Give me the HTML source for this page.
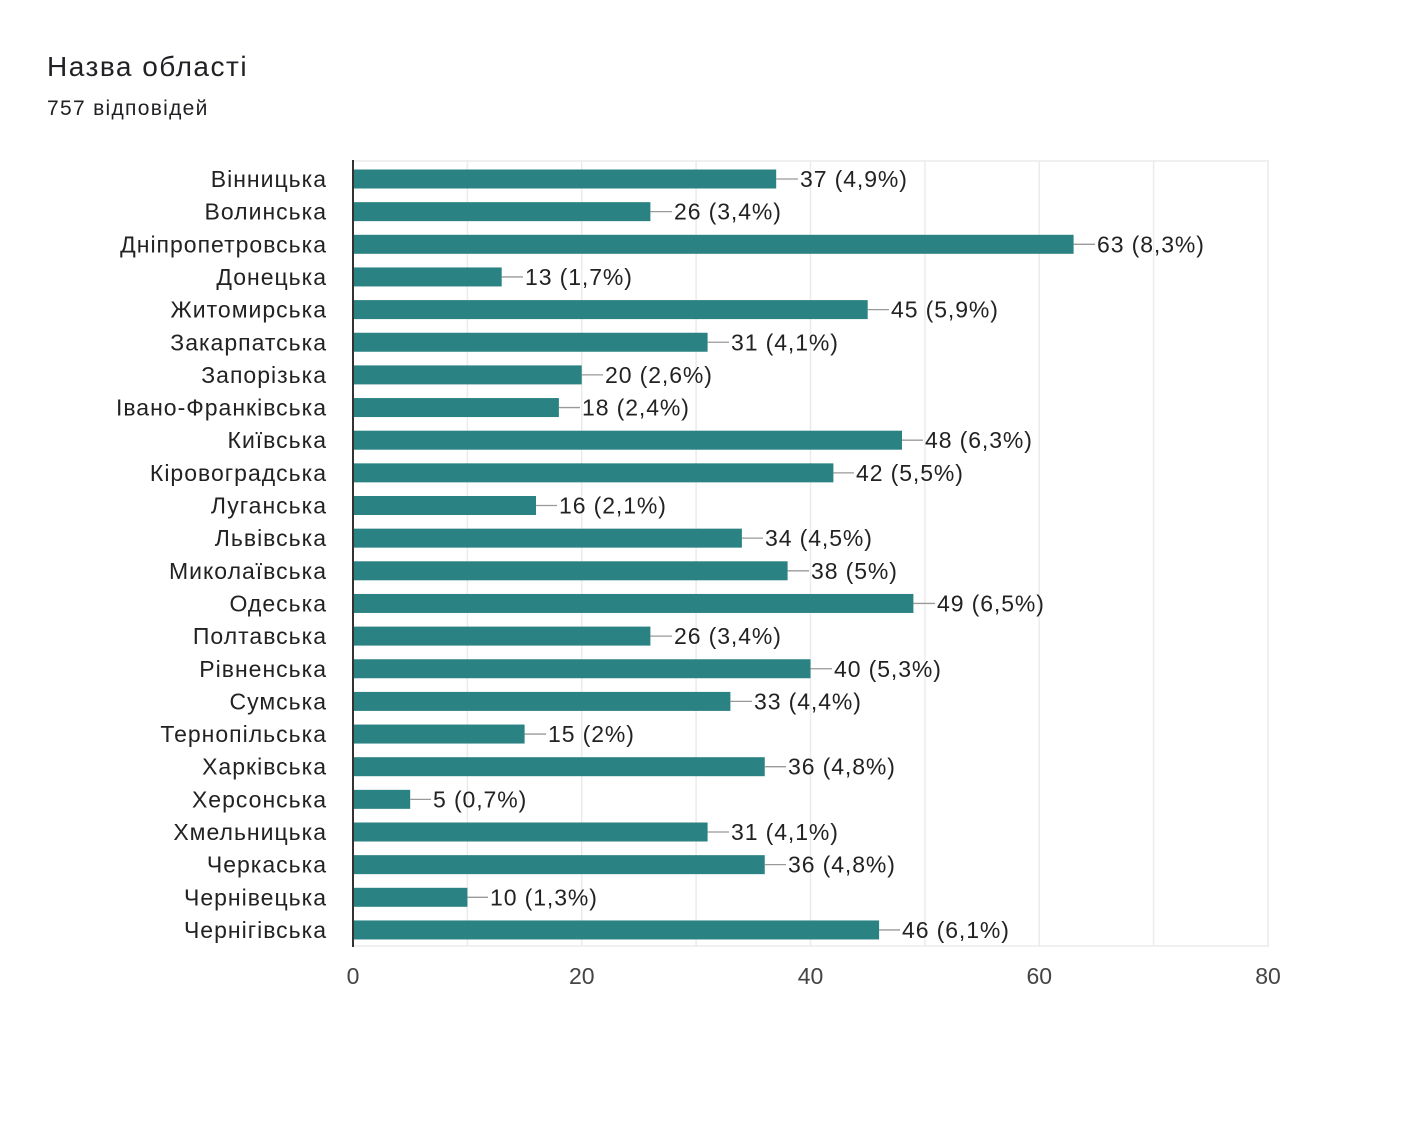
<!DOCTYPE html>
<html><head><meta charset="utf-8"><style>
body{margin:0;background:#fff;width:1410px;height:1132px;overflow:hidden}
svg{display:block;font-family:"Liberation Sans",Arial,sans-serif}
.c text[text-anchor="end"]{letter-spacing:1px}
.c text:not([text-anchor]){letter-spacing:0.9px}
</style></head><body>
<svg width="1410" height="1132" viewBox="0 0 1410 1132">
<text x="47" y="76" font-size="28" fill="#202124" letter-spacing="1.5">Назва області</text>
<text x="47" y="115" font-size="21" fill="#202124" letter-spacing="1.3">757 відповідей</text>
<g stroke="#ebebeb" stroke-width="1.5">
<line x1="353" y1="161" x2="1269" y2="161"/>
<line x1="353" y1="946" x2="1269" y2="946"/>
<line x1="467.4" y1="161" x2="467.4" y2="946"/>
<line x1="581.75" y1="161" x2="581.75" y2="946"/>
<line x1="696.1" y1="161" x2="696.1" y2="946"/>
<line x1="810.5" y1="161" x2="810.5" y2="946"/>
<line x1="924.9" y1="161" x2="924.9" y2="946"/>
<line x1="1039.25" y1="161" x2="1039.25" y2="946"/>
<line x1="1153.6" y1="161" x2="1153.6" y2="946"/>
<line x1="1268" y1="161" x2="1268" y2="946"/>
</g>
<g font-size="23" fill="#444" text-anchor="middle">
<text x="353" y="984">0</text><text x="581.75" y="984">20</text><text x="810.5" y="984">40</text><text x="1039.25" y="984">60</text><text x="1268" y="984">80</text>
</g>
<g class="c" font-size="23" fill="#222">
<g transform="translate(0,179)"><rect x="353" y="-9.5" width="423.2" height="19" fill="#2b8282"/><line x1="776.2" y1="0" x2="798" y2="0" stroke="#999" stroke-width="1.3"/><text x="327" y="8" text-anchor="end">Вінницька</text><text x="800" y="8">37 (4,9%)</text></g>
<g transform="translate(0,211.65)"><rect x="353" y="-9.5" width="297.4" height="19" fill="#2b8282"/><line x1="650.4" y1="0" x2="672" y2="0" stroke="#999" stroke-width="1.3"/><text x="327" y="8" text-anchor="end">Волинська</text><text x="674" y="8">26 (3,4%)</text></g>
<g transform="translate(0,244.3)"><rect x="353" y="-9.5" width="720.6" height="19" fill="#2b8282"/><line x1="1073.6" y1="0" x2="1095" y2="0" stroke="#999" stroke-width="1.3"/><text x="327" y="8" text-anchor="end">Дніпропетровська</text><text x="1097" y="8">63 (8,3%)</text></g>
<g transform="translate(0,276.95)"><rect x="353" y="-9.5" width="148.7" height="19" fill="#2b8282"/><line x1="501.7" y1="0" x2="523" y2="0" stroke="#999" stroke-width="1.3"/><text x="327" y="8" text-anchor="end">Донецька</text><text x="525" y="8">13 (1,7%)</text></g>
<g transform="translate(0,309.6)"><rect x="353" y="-9.5" width="514.7" height="19" fill="#2b8282"/><line x1="867.7" y1="0" x2="889" y2="0" stroke="#999" stroke-width="1.3"/><text x="327" y="8" text-anchor="end">Житомирська</text><text x="891" y="8">45 (5,9%)</text></g>
<g transform="translate(0,342.25)"><rect x="353" y="-9.5" width="354.6" height="19" fill="#2b8282"/><line x1="707.6" y1="0" x2="729" y2="0" stroke="#999" stroke-width="1.3"/><text x="327" y="8" text-anchor="end">Закарпатська</text><text x="731" y="8">31 (4,1%)</text></g>
<g transform="translate(0,374.9)"><rect x="353" y="-9.5" width="228.75" height="19" fill="#2b8282"/><line x1="581.75" y1="0" x2="603" y2="0" stroke="#999" stroke-width="1.3"/><text x="327" y="8" text-anchor="end">Запорізька</text><text x="605" y="8">20 (2,6%)</text></g>
<g transform="translate(0,407.55)"><rect x="353" y="-9.5" width="205.9" height="19" fill="#2b8282"/><line x1="558.9" y1="0" x2="580" y2="0" stroke="#999" stroke-width="1.3"/><text x="327" y="8" text-anchor="end">Івано-Франківська</text><text x="582" y="8">18 (2,4%)</text></g>
<g transform="translate(0,440.2)"><rect x="353" y="-9.5" width="549" height="19" fill="#2b8282"/><line x1="902" y1="0" x2="923" y2="0" stroke="#999" stroke-width="1.3"/><text x="327" y="8" text-anchor="end">Київська</text><text x="925" y="8">48 (6,3%)</text></g>
<g transform="translate(0,472.85)"><rect x="353" y="-9.5" width="480.4" height="19" fill="#2b8282"/><line x1="833.4" y1="0" x2="854" y2="0" stroke="#999" stroke-width="1.3"/><text x="327" y="8" text-anchor="end">Кіровоградська</text><text x="856" y="8">42 (5,5%)</text></g>
<g transform="translate(0,505.5)"><rect x="353" y="-9.5" width="183" height="19" fill="#2b8282"/><line x1="536" y1="0" x2="557" y2="0" stroke="#999" stroke-width="1.3"/><text x="327" y="8" text-anchor="end">Луганська</text><text x="559" y="8">16 (2,1%)</text></g>
<g transform="translate(0,538.15)"><rect x="353" y="-9.5" width="388.9" height="19" fill="#2b8282"/><line x1="741.9" y1="0" x2="763" y2="0" stroke="#999" stroke-width="1.3"/><text x="327" y="8" text-anchor="end">Львівська</text><text x="765" y="8">34 (4,5%)</text></g>
<g transform="translate(0,570.8)"><rect x="353" y="-9.5" width="434.6" height="19" fill="#2b8282"/><line x1="787.6" y1="0" x2="809" y2="0" stroke="#999" stroke-width="1.3"/><text x="327" y="8" text-anchor="end">Миколаївська</text><text x="811" y="8">38 (5%)</text></g>
<g transform="translate(0,603.45)"><rect x="353" y="-9.5" width="560.4" height="19" fill="#2b8282"/><line x1="913.4" y1="0" x2="935" y2="0" stroke="#999" stroke-width="1.3"/><text x="327" y="8" text-anchor="end">Одеська</text><text x="937" y="8">49 (6,5%)</text></g>
<g transform="translate(0,636.1)"><rect x="353" y="-9.5" width="297.4" height="19" fill="#2b8282"/><line x1="650.4" y1="0" x2="672" y2="0" stroke="#999" stroke-width="1.3"/><text x="327" y="8" text-anchor="end">Полтавська</text><text x="674" y="8">26 (3,4%)</text></g>
<g transform="translate(0,668.75)"><rect x="353" y="-9.5" width="457.5" height="19" fill="#2b8282"/><line x1="810.5" y1="0" x2="832" y2="0" stroke="#999" stroke-width="1.3"/><text x="327" y="8" text-anchor="end">Рівненська</text><text x="834" y="8">40 (5,3%)</text></g>
<g transform="translate(0,701.4)"><rect x="353" y="-9.5" width="377.4" height="19" fill="#2b8282"/><line x1="730.4" y1="0" x2="752" y2="0" stroke="#999" stroke-width="1.3"/><text x="327" y="8" text-anchor="end">Сумська</text><text x="754" y="8">33 (4,4%)</text></g>
<g transform="translate(0,734.05)"><rect x="353" y="-9.5" width="171.6" height="19" fill="#2b8282"/><line x1="524.6" y1="0" x2="546" y2="0" stroke="#999" stroke-width="1.3"/><text x="327" y="8" text-anchor="end">Тернопільська</text><text x="548" y="8">15 (2%)</text></g>
<g transform="translate(0,766.7)"><rect x="353" y="-9.5" width="411.75" height="19" fill="#2b8282"/><line x1="764.75" y1="0" x2="786" y2="0" stroke="#999" stroke-width="1.3"/><text x="327" y="8" text-anchor="end">Харківська</text><text x="788" y="8">36 (4,8%)</text></g>
<g transform="translate(0,799.35)"><rect x="353" y="-9.5" width="57.2" height="19" fill="#2b8282"/><line x1="410.2" y1="0" x2="431" y2="0" stroke="#999" stroke-width="1.3"/><text x="327" y="8" text-anchor="end">Херсонська</text><text x="433" y="8">5 (0,7%)</text></g>
<g transform="translate(0,832)"><rect x="353" y="-9.5" width="354.6" height="19" fill="#2b8282"/><line x1="707.6" y1="0" x2="729" y2="0" stroke="#999" stroke-width="1.3"/><text x="327" y="8" text-anchor="end">Хмельницька</text><text x="731" y="8">31 (4,1%)</text></g>
<g transform="translate(0,864.65)"><rect x="353" y="-9.5" width="411.75" height="19" fill="#2b8282"/><line x1="764.75" y1="0" x2="786" y2="0" stroke="#999" stroke-width="1.3"/><text x="327" y="8" text-anchor="end">Черкаська</text><text x="788" y="8">36 (4,8%)</text></g>
<g transform="translate(0,897.3)"><rect x="353" y="-9.5" width="114.4" height="19" fill="#2b8282"/><line x1="467.4" y1="0" x2="488" y2="0" stroke="#999" stroke-width="1.3"/><text x="327" y="8" text-anchor="end">Чернівецька</text><text x="490" y="8">10 (1,3%)</text></g>
<g transform="translate(0,929.95)"><rect x="353" y="-9.5" width="526.1" height="19" fill="#2b8282"/><line x1="879.1" y1="0" x2="900" y2="0" stroke="#999" stroke-width="1.3"/><text x="327" y="8" text-anchor="end">Чернігівська</text><text x="902" y="8">46 (6,1%)</text></g>
</g>
<line x1="353" y1="160" x2="353" y2="947" stroke="#333" stroke-width="2"/>
</svg>
</body></html>
